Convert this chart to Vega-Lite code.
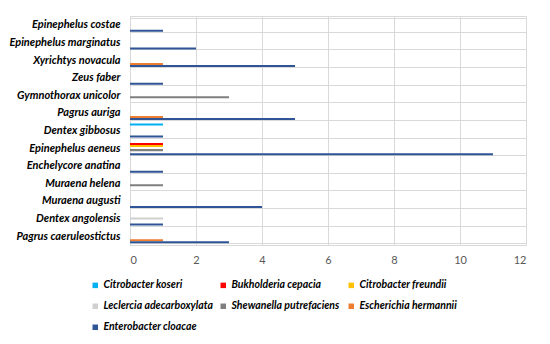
{
  "$schema": "https://vega.github.io/schema/vega-lite/v6.json",
  "autosize": "none",
  "width": 396,
  "height": 229,
  "padding": {"left": 130, "top": 16, "right": 24, "bottom": 99},
  "background": "white",
  "data": {"values": [
    {"species": "Epinephelus costae", "bacteria": "Enterobacter cloacae", "n": 1},
    {"species": "Epinephelus marginatus", "bacteria": "Enterobacter cloacae", "n": 2},
    {"species": "Xyrichtys novacula", "bacteria": "Escherichia hermannii", "n": 1},
    {"species": "Xyrichtys novacula", "bacteria": "Enterobacter cloacae", "n": 5},
    {"species": "Zeus faber", "bacteria": "Enterobacter cloacae", "n": 1},
    {"species": "Gymnothorax unicolor", "bacteria": "Shewanella putrefaciens", "n": 3},
    {"species": "Pagrus auriga", "bacteria": "Escherichia hermannii", "n": 1},
    {"species": "Pagrus auriga", "bacteria": "Enterobacter cloacae", "n": 5},
    {"species": "Dentex gibbosus", "bacteria": "Citrobacter koseri", "n": 1},
    {"species": "Dentex gibbosus", "bacteria": "Enterobacter cloacae", "n": 1},
    {"species": "Epinephelus aeneus", "bacteria": "Bukholderia cepacia", "n": 1},
    {"species": "Epinephelus aeneus", "bacteria": "Citrobacter freundii", "n": 1},
    {"species": "Epinephelus aeneus", "bacteria": "Shewanella putrefaciens", "n": 1},
    {"species": "Epinephelus aeneus", "bacteria": "Enterobacter cloacae", "n": 11},
    {"species": "Enchelycore anatina", "bacteria": "Enterobacter cloacae", "n": 1},
    {"species": "Muraena helena", "bacteria": "Shewanella putrefaciens", "n": 1},
    {"species": "Muraena augusti", "bacteria": "Enterobacter cloacae", "n": 4},
    {"species": "Dentex angolensis", "bacteria": "Leclercia adecarboxylata", "n": 1},
    {"species": "Dentex angolensis", "bacteria": "Enterobacter cloacae", "n": 1},
    {"species": "Pagrus caeruleostictus", "bacteria": "Escherichia hermannii", "n": 1},
    {"species": "Pagrus caeruleostictus", "bacteria": "Enterobacter cloacae", "n": 3}
  ]},
  "mark": {"type": "bar"},
  "encoding": {
    "y": {
      "field": "species", "type": "nominal",
      "sort": ["Epinephelus costae", "Epinephelus marginatus", "Xyrichtys novacula", "Zeus faber", "Gymnothorax unicolor", "Pagrus auriga", "Dentex gibbosus", "Epinephelus aeneus", "Enchelycore anatina", "Muraena helena", "Muraena augusti", "Dentex angolensis", "Pagrus caeruleostictus"],
      "scale": {"paddingInner": 0.2, "paddingOuter": 0.1},
      "axis": {
        "title": null, "ticks": false, "domain": false, "tickBand": "extent",
        "grid": true, "gridColor": "#d9d9d9", "gridWidth": 1,
        "labelFont": "Lato", "labelFontWeight": "bold", "labelFontStyle": "italic",
        "labelFontSize": 11, "labelColor": "#000000", "labelPadding": 10,
        "labelLimit": 200
      }
    },
    "yOffset": {
      "field": "bacteria", "type": "nominal",
      "sort": ["Citrobacter koseri", "Bukholderia cepacia", "Citrobacter freundii", "Leclercia adecarboxylata", "Shewanella putrefaciens", "Escherichia hermannii", "Enterobacter cloacae"],
      "scale": {"domain": ["Citrobacter koseri", "Bukholderia cepacia", "Citrobacter freundii", "Leclercia adecarboxylata", "Shewanella putrefaciens", "Escherichia hermannii", "Enterobacter cloacae"], "paddingInner": 0, "paddingOuter": 0}
    },
    "x": {
      "field": "n", "type": "quantitative",
      "scale": {"domain": [0, 12], "nice": false},
      "axis": {
        "title": null, "values": [0, 2, 4, 6, 8, 10, 12], "ticks": false, "domain": false,
        "grid": true, "gridColor": "#d9d9d9", "gridWidth": 1,
        "labelFont": "Lato", "labelFontSize": 11, "labelColor": "#595959", "labelPadding": 9
      }
    },
    "color": {
      "field": "bacteria", "type": "nominal",
      "sort": ["Citrobacter koseri", "Bukholderia cepacia", "Citrobacter freundii", "Leclercia adecarboxylata", "Shewanella putrefaciens", "Escherichia hermannii", "Enterobacter cloacae"],
      "scale": {
        "domain": ["Citrobacter koseri", "Bukholderia cepacia", "Citrobacter freundii", "Leclercia adecarboxylata", "Shewanella putrefaciens", "Escherichia hermannii", "Enterobacter cloacae"],
        "range": ["#00b0f0", "#ff0000", "#ffc000", "#d0d0d0", "#7f7f7f", "#ed7d31", "#2f5597"]
      },
      "legend": {
        "title": null, "orient": "none", "legendX": -40, "legendY": 264,
        "direction": "horizontal", "columns": 3, "gridAlign": "all",
        "symbolType": "square", "symbolSize": 30, "symbolStrokeWidth": 0,
        "labelFont": "Lato", "labelFontWeight": "bold", "labelFontStyle": "italic",
        "labelFontSize": 10.5, "labelColor": "#000000", "labelOffset": 3,
        "columnPadding": 5, "rowPadding": 10, "labelLimit": 200
      }
    }
  },
  "config": {
    "view": {"stroke": "#d9d9d9", "strokeWidth": 1}
  }
}
